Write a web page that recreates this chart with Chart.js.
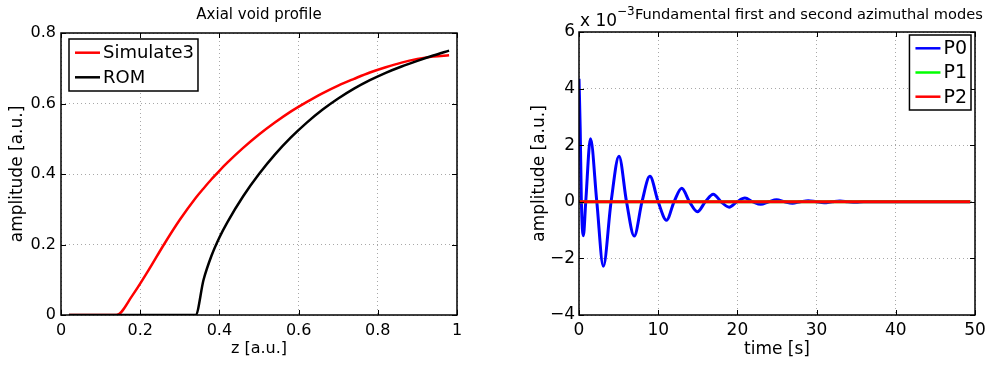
<!DOCTYPE html>
<html>
<head>
<meta charset="utf-8">
<script src="https://cdn.jsdelivr.net/npm/chart.js@4.4.1/dist/chart.umd.min.js"></script>
<style>
  html, body { margin: 0; padding: 0; background: #fff; }
  #wrap { display: flex; width: 992px; height: 365px; }
  canvas { display: block; }
</style>
</head>
<body>
<div id="wrap">
  <canvas id="voidChart" width="496" height="365"></canvas>
  <canvas id="modeChart" width="496" height="365"></canvas>
</div>
<script>
// left panel: axial void profile
const zPos      = [0.02, 0.06, 0.10, 0.14, 0.18, 0.22, 0.26, 0.30, 0.34, 0.36, 0.38, 0.40, 0.42, 0.46, 0.50, 0.54, 0.58, 0.62, 0.66, 0.70, 0.74, 0.78, 0.82, 0.86, 0.90, 0.94, 0.98];
const simulate3 = [0, 0, 0, 0, 0.055, 0.125, 0.200, 0.270, 0.332, 0.359, 0.385, 0.409, 0.432, 0.474, 0.512, 0.546, 0.577, 0.604, 0.629, 0.651, 0.670, 0.688, 0.703, 0.716, 0.726, 0.733, 0.737];
const rom       = [0, 0, 0, 0, 0, 0, 0, 0, 0, 0.100, 0.168, 0.220, 0.263, 0.337, 0.400, 0.455, 0.503, 0.545, 0.582, 0.614, 0.642, 0.666, 0.687, 0.705, 0.721, 0.736, 0.750];
const zTicks    = [0, 0.2, 0.4, 0.6, 0.8, 1];
const voidTicks = [0, 0.2, 0.4, 0.6, 0.8];

// right panel: azimuthal modes (amplitude in units of 1e-3)
const timeP0 = [0, 0.15, 0.3, 0.55, 0.85, 1.45, 2.25, 3.07, 4.05, 5.05, 6.0, 6.97, 7.95, 8.95, 10.0, 11.05, 12.0, 12.97, 13.95, 14.95, 15.95, 16.95, 17.95, 18.96, 19.95, 20.95, 21.95, 22.95, 23.95, 24.95, 25.95, 26.95, 27.95, 28.95, 29.95, 30.95, 31.95, 32.95, 33.95, 34.95, 35.95, 40, 45, 49.4];
const p0     = [4.35, 2.6, 0, -1.2, 0, 2.23, 0, -2.28, 0, 1.61, 0, -1.21, 0, 0.9, 0, -0.65, 0, 0.48, 0, -0.35, 0, 0.27, 0, -0.19, 0, 0.13, 0, -0.09, 0, 0.07, 0, -0.05, 0, 0.04, 0, -0.03, 0, 0.025, 0, -0.02, 0, 0, 0, 0];
const timeP12 = [0, 49.4];
const p1 = [0, 0];
const p2 = [0, 0];
const timeTicks = [0, 10, 20, 30, 40, 50];
const modeTicks = [-4, -2, 0, 2, 4, 6];

const FONT = '"DejaVu Sans", sans-serif';

const pts = (xs, ys) => xs.map((x, i) => ({ x: x, y: ys[i] }));

// box round the plot area plus inward tick marks, matlab style
const framePlugin = {
  id: 'frame',
  afterDatasetsDraw(chart) {
    const { ctx, chartArea: a, scales: { x, y } } = chart;
    ctx.save();
    ctx.strokeStyle = '#000';
    ctx.lineWidth = 1;
    ctx.beginPath();
    x.ticks.forEach(t => {
      const px = Math.round(x.getPixelForValue(t.value)) + 0.5;
      ctx.moveTo(px, a.bottom); ctx.lineTo(px, a.bottom - 5);
      ctx.moveTo(px, a.top); ctx.lineTo(px, a.top + 5);
    });
    y.ticks.forEach(t => {
      const py = Math.round(y.getPixelForValue(t.value)) + 0.5;
      ctx.moveTo(a.left, py); ctx.lineTo(a.left + 5, py);
      ctx.moveTo(a.right, py); ctx.lineTo(a.right - 5, py);
    });
    ctx.stroke();
    ctx.lineWidth = 1.5;
    ctx.strokeRect(a.left, a.top, a.right - a.left, a.bottom - a.top);
    ctx.restore();
  }
};

function drawLegend(chart, o) {
  const ctx = chart.ctx;
  const a = chart.chartArea;
  const items = chart.data.datasets;
  ctx.save();
  ctx.font = o.size + 'px ' + FONT;
  const textW = Math.max(...items.map(d => ctx.measureText(d.label).width));
  const w = 34 + textW + 4;
  const h = 2 * o.first + (items.length - 1) * o.rowH;
  const left = o.right ? a.right - o.dx - w : a.left + o.dx;
  const top = a.top + o.dy;
  ctx.fillStyle = '#fff';
  ctx.fillRect(left, top, w, h);
  ctx.lineWidth = 1.5;
  ctx.strokeStyle = '#000';
  ctx.strokeRect(left, top, w, h);
  items.forEach((d, i) => {
    const cy = top + o.first + i * o.rowH;
    ctx.strokeStyle = d.borderColor;
    ctx.lineWidth = 2.5;
    ctx.beginPath();
    ctx.moveTo(left + 6, cy);
    ctx.lineTo(left + 31, cy);
    ctx.stroke();
    ctx.fillStyle = '#000';
    ctx.textBaseline = 'middle';
    ctx.textAlign = 'left';
    ctx.fillText(d.label, left + 34, cy + 1);
  });
  ctx.restore();
}

function scaleOpts(min, max, ticks, title, o) {
  return {
    type: 'linear',
    min: min,
    max: max,
    afterBuildTicks: axis => { axis.ticks = ticks.map(v => ({ value: v })); },
    afterFit: axis => {
      if (o.width) axis.width = o.width;
      if (o.height) axis.height = o.height;
    },
    grid: { color: '#a8a8a8', lineWidth: 1, drawTicks: false, borderDash: [1, 3] },
    border: { display: false, dash: [1, 3] },
    ticks: {
      color: '#000',
      padding: o.pad,
      maxRotation: 0,
      autoSkip: false,
      font: { family: FONT, size: o.tickSize },
      callback: v => String(v).replace('-', '\u2212')
    },
    title: {
      display: true,
      text: title,
      color: '#000',
      font: { family: FONT, size: o.titleSize },
      padding: o.titlePad
    }
  };
}

new Chart(document.getElementById('voidChart'), {
  type: 'line',
  data: {
    datasets: [
      { label: 'Simulate3', data: pts(zPos, simulate3), borderColor: '#ff0000', borderWidth: 2.5, order: 1 },
      { label: 'ROM', data: pts(zPos, rom), borderColor: '#000000', borderWidth: 2.5, order: 0 }
    ]
  },
  options: {
    responsive: false,
    animation: false,
    layout: { padding: { left: 0, right: 39, top: 33, bottom: 0 } },
    elements: { point: { radius: 0 }, line: { cubicInterpolationMode: 'monotone', fill: false } },
    plugins: { legend: { display: false }, tooltip: { enabled: false } },
    scales: {
      x: scaleOpts(0, 1, zTicks, 'z [a.u.]', { height: 50, pad: 6, tickSize: 16, titleSize: 16, titlePad: { top: 0, bottom: 7 } }),
      y: scaleOpts(0, 0.8, voidTicks, 'amplitude [a.u.]', { width: 61, pad: 5, tickSize: 16, titleSize: 17, titlePad: { top: 7, bottom: 0 } })
    }
  },
  plugins: [framePlugin, {
    id: 'extras',
    afterDraw(chart) {
      const ctx = chart.ctx;
      const a = chart.chartArea;
      ctx.save();
      ctx.fillStyle = '#000';
      ctx.font = '15px ' + FONT;
      ctx.textAlign = 'center';
      ctx.textBaseline = 'alphabetic';
      ctx.fillText('Axial void profile', (a.left + a.right) / 2, 19);
      ctx.restore();
      drawLegend(chart, { size: 18, dx: 8, dy: 6, first: 13.7, rowH: 24.6, right: false });
    }
  }]
});

new Chart(document.getElementById('modeChart'), {
  type: 'line',
  data: {
    datasets: [
      { label: 'P0', data: pts(timeP0, p0), borderColor: '#0000ff', borderWidth: 3, order: 2 },
      { label: 'P1', data: pts(timeP12, p1), borderColor: '#00ff00', borderWidth: 3, order: 1 },
      { label: 'P2', data: pts(timeP12, p2), borderColor: '#ff0000', borderWidth: 3, order: 0 }
    ]
  },
  options: {
    responsive: false,
    animation: false,
    layout: { padding: { left: 0, right: 17, top: 32, bottom: 0 } },
    elements: { point: { radius: 0 }, line: { cubicInterpolationMode: 'monotone', fill: false } },
    plugins: { legend: { display: false }, tooltip: { enabled: false } },
    scales: {
      x: scaleOpts(0, 50, timeTicks, 'time [s]', { height: 50, pad: 5, tickSize: 17, titleSize: 17, titlePad: { top: 0, bottom: 5 } }),
      y: scaleOpts(-4, 6, modeTicks, 'amplitude [a.u.]', { width: 83, pad: 4, tickSize: 17, titleSize: 17, titlePad: { top: 33, bottom: 0 } })
    }
  },
  plugins: [framePlugin, {
    id: 'extras',
    afterDraw(chart) {
      const ctx = chart.ctx;
      ctx.save();
      ctx.fillStyle = '#000';
      ctx.textAlign = 'left';
      ctx.textBaseline = 'alphabetic';
      ctx.font = '17px ' + FONT;
      ctx.fillText('x 10', 84, 26);
      ctx.font = '12px ' + FONT;
      ctx.fillText('\u22123', 121, 15);
      ctx.font = '14.6px ' + FONT;
      ctx.fillText('Fundamental first and second azimuthal modes', 139, 19);
      ctx.restore();
      drawLegend(chart, { size: 19, dx: 4, dy: 3, first: 13.3, rowH: 24.2, right: true });
    }
  }]
});
</script>
</body>
</html>
